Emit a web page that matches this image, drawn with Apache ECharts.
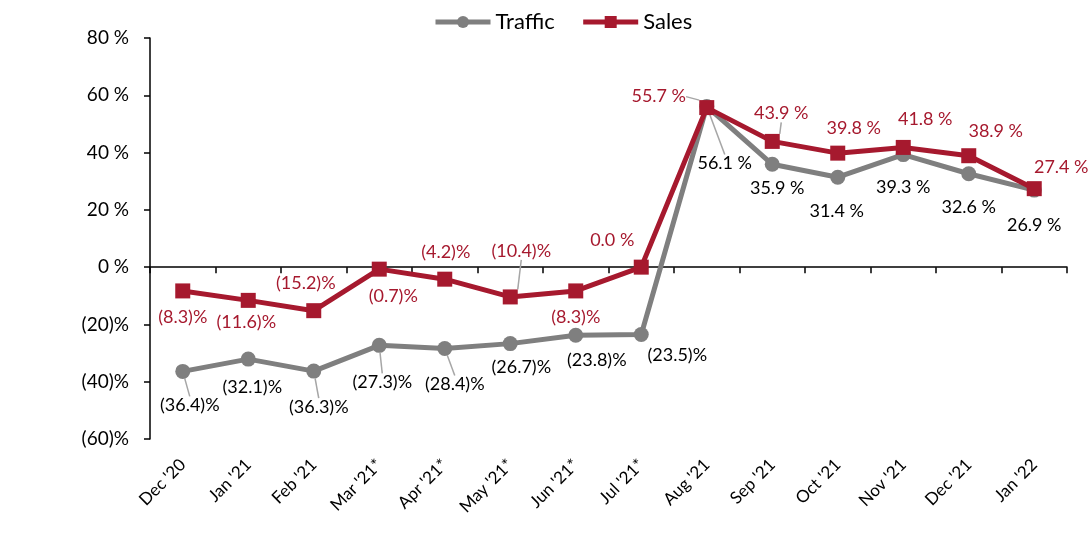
<!DOCTYPE html>
<html>
<head>
<meta charset="utf-8">
<script src="https://cdn.jsdelivr.net/npm/echarts@6/dist/echarts.min.js"></script>
<style>
html,body{margin:0;padding:0;background:#fff;}
#chart{width:1092px;height:551px;}
</style>
</head>
<body>
<div id="chart"></div>
<script>
const categories = ["Dec '20", "Jan '21", "Feb '21", "Mar '21*", "Apr '21*", "May '21*", "Jun '21*", "Jul '21*", "Aug '21", "Sep '21", "Oct '21", "Nov '21", "Dec '21", "Jan '22"];
const traffic = [-36.4, -32.1, -36.3, -27.3, -28.4, -26.7, -23.8, -23.5, 56.1, 35.9, 31.4, 39.3, 32.6, 26.9];
const sales = [-8.3, -11.6, -15.2, -0.7, -4.2, -10.4, -8.3, 0.0, 55.7, 43.9, 39.8, 41.8, 38.9, 27.4];
const yTicks = { min: -60, max: 80, interval: 20 };

// label placement (offset of label centre from point centre, px) and leader-line flags
const trafficLabelOffsets = [[7,34],[4,28],[5,36],[3,37],[10,36],[11,24],[21,25],[36,21],[18,57],[5,24],[-1,34],[0,33],[0,33],[0,35]];
const salesLabelOffsets = [[0,26],[-2,22],[-8,-27],[14,27],[1,-27],[11,-46],[0,26],[-29,-27],[-48,-11],[9,-28],[16,-25],[22,-28],[27,-25],[27,-21]];
const trafficLeader = [0,2,3,4,8];
const salesLeader = [5,8,9];

const FONT = 'Lato';
const RED = '#A6192E';
const GREY = '#7F7F7F';

function pct(v) {
  return v < 0 ? '(' + Math.abs(v).toFixed(1) + ')%' : v.toFixed(1) + ' %';
}
function axisPct(v) {
  return v < 0 ? '(' + Math.abs(v) + ')%' : v + ' %';
}
function makeData(vals, leaders) {
  return vals.map((v, i) => ({ value: v, labelLine: { show: leaders.indexOf(i) >= 0 } }));
}
const offsets = [trafficLabelOffsets, salesLabelOffsets];

const chart = echarts.init(document.getElementById('chart'), null, { renderer: 'canvas' });
chart.setOption({
  animation: false,
  textStyle: { fontFamily: FONT },
  legend: {
    top: 6,
    left: 428,
    itemWidth: 55,
    itemHeight: 15,
    itemGap: 26,
    lineStyle: { width: 5 },
    textStyle: { fontFamily: FONT, fontSize: 22, color: '#000' },
    data: ['Traffic', 'Sales']
  },
  grid: { left: 150, right: 25, top: 38, bottom: 112, containLabel: false },
  xAxis: [
    {
      type: 'category',
      data: categories,
      boundaryGap: true,
      axisLine: { show: true, onZero: true, lineStyle: { color: '#000', width: 1.5 } },
      axisTick: { show: true, length: 6, lineStyle: { color: '#000', width: 1.5 } },
      axisLabel: { show: false },
      splitLine: { show: false }
    },
    {
      type: 'category',
      data: categories,
      position: 'bottom',
      boundaryGap: true,
      axisLine: { show: false, onZero: false },
      axisTick: { show: false },
      axisLabel: { show: true, rotate: 45, margin: 23, fontFamily: FONT, fontSize: 17, color: '#000' },
      splitLine: { show: false }
    }
  ],
  yAxis: {
    type: 'value',
    min: yTicks.min,
    max: yTicks.max,
    interval: yTicks.interval,
    axisLine: { show: true, lineStyle: { color: '#000', width: 1.5 } },
    axisTick: { show: true, length: 6, lineStyle: { color: '#000', width: 1.5 } },
    axisLabel: { formatter: axisPct, fontFamily: FONT, fontSize: 19, color: '#000', margin: 21 },
    splitLine: { show: false }
  },
  series: [
    {
      name: 'Traffic',
      type: 'line',
      xAxisIndex: 0,
      data: makeData(traffic, trafficLeader),
      symbol: 'circle',
      symbolSize: 15,
      lineStyle: { color: GREY, width: 5 },
      itemStyle: { color: GREY },
      label: {
        show: true,
        formatter: p => pct(p.value),
        fontFamily: FONT, fontSize: 18, color: '#000'
      },
      labelLine: { show: true, lineStyle: { color: '#A6A6A6', width: 1.5 } },
      z: 2
    },
    {
      name: 'Sales',
      type: 'line',
      xAxisIndex: 0,
      data: makeData(sales, salesLeader),
      symbol: 'rect',
      symbolSize: 15,
      lineStyle: { color: RED, width: 5 },
      itemStyle: { color: RED },
      label: {
        show: true,
        formatter: p => pct(p.value),
        fontFamily: FONT, fontSize: 18, color: RED
      },
      labelLine: { show: true, lineStyle: { color: '#A6A6A6', width: 1.5 } },
      z: 3
    }
  ],
  labelLayout: function (params) {
    const off = offsets[params.seriesIndex] && offsets[params.seriesIndex][params.dataIndex];
    if (!off) return {};
    const r = params.rect;
    return {
      x: r.x + r.width / 2 + off[0],
      y: r.y + r.height / 2 + off[1],
      align: 'center',
      verticalAlign: 'middle'
    };
  }
});
</script>
</body>
</html>
